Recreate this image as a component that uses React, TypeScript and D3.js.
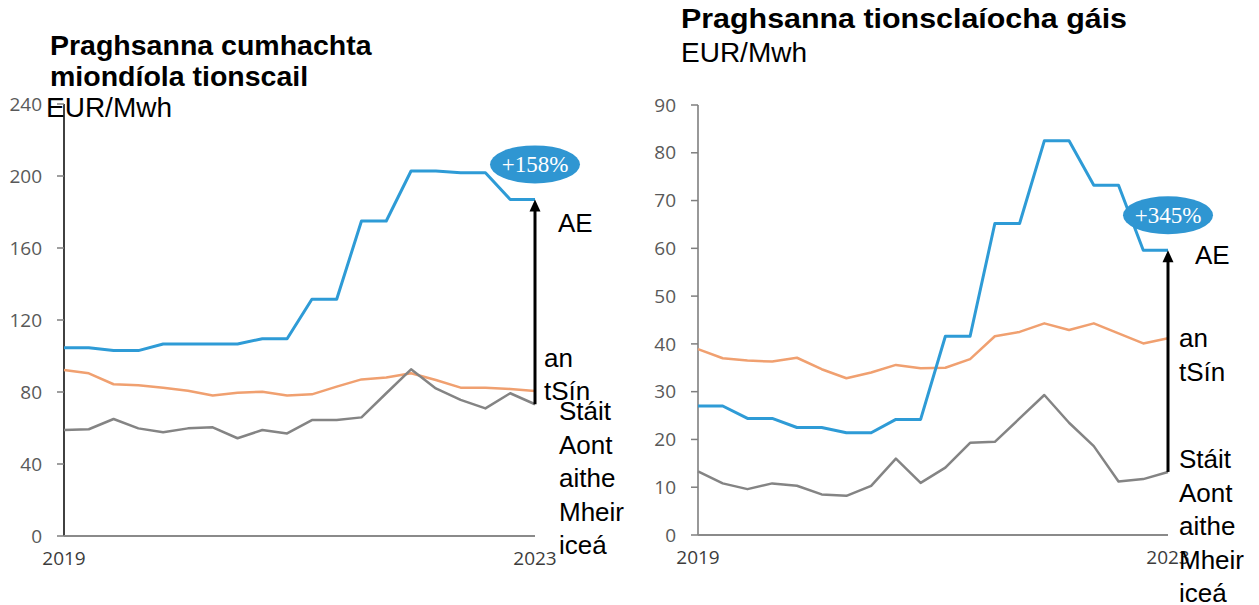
import React from "react";
import * as d3 from "d3";

// ---- data ----
const xTickLabels = ["2019", "2023"];
const powerTicks = [0, 40, 80, 120, 160, 200, 240];
const gasTicks = [0, 10, 20, 30, 40, 50, 60, 70, 80, 90];

const powerEU = [104.6, 104.6, 103, 103, 106.7, 106.7, 106.7, 106.7, 109.6, 109.6, 131.5, 131.5, 175, 175, 202.8, 202.8, 201.8, 201.8, 187, 187];
const powerChina = [92.2, 90.4, 84.3, 83.7, 82.4, 80.7, 78.1, 79.6, 80.2, 78.1, 78.7, 83, 87, 88, 90.4, 86.7, 82.4, 82.4, 81.7, 80.6];
const powerUS = [58.9, 59.3, 65, 59.8, 57.6, 59.8, 60.4, 54.3, 58.9, 57, 64.4, 64.4, 65.9, 79.3, 92.6, 82, 75.6, 70.9, 79.3, 73.2];

const gasEU = [27.0, 27.0, 24.4, 24.4, 22.5, 22.5, 21.4, 21.4, 24.2, 24.2, 41.6, 41.6, 65.2, 65.2, 82.5, 82.5, 73.2, 73.2, 59.6, 59.6];
const gasChina = [38.9, 37.0, 36.5, 36.3, 37.1, 34.7, 32.8, 34.0, 35.6, 34.9, 35.0, 36.8, 41.6, 42.5, 44.3, 42.9, 44.3, 42.2, 40.1, 41.2];
const gasUS = [13.3, 10.8, 9.6, 10.8, 10.3, 8.5, 8.2, 10.3, 16.0, 10.9, 14.1, 19.3, 19.5, 24.4, 29.3, 23.5, 18.6, 11.2, 11.7, 13.2];

const labelEU = ["AE"];
const labelChina = ["an", "tSín"];
const labelUS = ["Stáit", "Aont", "aithe", "Mheir", "iceá"];

const powerTitle = ["Praghsanna cumhachta", "miondíola tionscail"];
const gasTitle = ["Praghsanna tionsclaíocha gáis"];
const unitLabel = "EUR/Mwh";
const powerBadge = "+158%";
const gasBadge = "+345%";

const COL_EU = "#2e9bd6";
const COL_CN = "#f0a070";
const COL_US = "#848484";
const TICK_FONT = "'Open Sans', 'Noto Sans', sans-serif";
const LABEL_FONT = "'Liberation Sans', Arial, sans-serif";

type PanelProps = {
  x0: number; x1: number; yTop: number; yBottom: number; max: number;
  ticks: number[]; eu: number[]; cn: number[]; us: number[];
  yAxisColor: string; badge: string;
  aeDx: number; aeDy: number;
  cnDx: number; cnDy: number;
  usDx: number; usDy: number;
  lineGap: number;
};

function Panel(p: PanelProps) {
  const n = p.eu.length;
  const x = d3.scaleLinear().domain([0, n - 1]).range([p.x0, p.x1]);
  const y = d3.scaleLinear().domain([0, p.max]).range([p.yBottom, p.yTop]);
  const line = d3.line<number>().x((_, i) => x(i)).y((d) => y(d));
  const xe = x(n - 1);
  const yEU = y(p.eu[n - 1]);
  const yUS = y(p.us[n - 1]);
  const yCN = y(p.cn[n - 1]);
  return (
    <g>
      {/* y axis */}
      <line x1={p.x0} x2={p.x0} y1={y(p.max)} y2={y(0)} stroke={p.yAxisColor} strokeWidth={1.6} />
      {p.ticks.map((t) => (
        <g key={t}>
          <line x1={p.x0 - 7} x2={p.x0} y1={y(t)} y2={y(t)} stroke="#7f7f7f" strokeWidth={1.5} />
          <text x={p.x0 - 22} y={y(t)} dy="0.35em" textAnchor="end" fontFamily={TICK_FONT} fontSize={19} fill="#595959">{t}</text>
        </g>
      ))}
      {/* x axis */}
      <line x1={p.x0} x2={xe} y1={y(0)} y2={y(0)} stroke="#8a8a8a" strokeWidth={2} />
      {xTickLabels.map((l, i) => (
        <text key={l} x={i === 0 ? x(0) : x(n - 1)} y={p.yBottom + 29} textAnchor="middle" fontFamily={TICK_FONT} fontSize={19} fill="#3c3c3c">{l}</text>
      ))}
      {/* series */}
      <path d={line(p.cn) || ""} fill="none" stroke={COL_CN} strokeWidth={2.5} strokeLinejoin="round" />
      <path d={line(p.us) || ""} fill="none" stroke={COL_US} strokeWidth={2.5} strokeLinejoin="round" />
      <path d={line(p.eu) || ""} fill="none" stroke={COL_EU} strokeWidth={3} strokeLinejoin="round" />
      {/* arrow */}
      <line x1={xe} x2={xe} y1={yUS} y2={yEU + 10} stroke="#000" strokeWidth={3} />
      <polygon points={`${xe},${yEU} ${xe - 5.5},${yEU + 12} ${xe + 5.5},${yEU + 12}`} fill="#000" />
      {/* badge */}
      <ellipse cx={xe} cy={yEU - 35} rx={45} ry={19} fill="#2f96d2" />
      <text x={xe} y={yEU - 35} dy="0.34em" textAnchor="middle" fontFamily="'Liberation Serif', 'Times New Roman', serif" fontSize={23} fill="#fff">{p.badge}</text>
      {/* labels */}
      {labelEU.map((l, i) => (
        <text key={l} x={xe + p.aeDx} y={yEU + p.aeDy + i * p.lineGap} fontFamily={LABEL_FONT} fontSize={26} fill="#000">{l}</text>
      ))}
      {labelChina.map((l, i) => (
        <text key={l} x={xe + p.cnDx} y={yCN + p.cnDy + i * p.lineGap} fontFamily={LABEL_FONT} fontSize={26} fill="#000">{l}</text>
      ))}
      {labelUS.map((l, i) => (
        <text key={l} x={xe + p.usDx} y={yUS + p.usDy + i * p.lineGap} fontFamily={LABEL_FONT} fontSize={26} fill="#000">{l}</text>
      ))}
    </g>
  );
}

export default function App() {
  return (
    <svg width={1259} height={605} style={{ position: "absolute", left: 0, top: 0, background: "#fff" }}>
      <rect width={1259} height={605} fill="#fff" />
      <Panel x0={64} x1={535} yTop={104} yBottom={536} max={240} ticks={powerTicks}
        eu={powerEU} cn={powerChina} us={powerUS} yAxisColor="#111" badge={powerBadge}
        aeDx={23} aeDy={33} cnDx={9} cnDy={-24} usDx={24} usDy={16} lineGap={33.5} />
      <Panel x0={698} x1={1168} yTop={105} yBottom={535} max={90} ticks={gasTicks}
        eu={gasEU} cn={gasChina} us={gasUS} yAxisColor="#7f7f7f" badge={gasBadge}
        aeDx={27} aeDy={14} cnDx={11} cnDy={9} usDx={11} usDy={-3.5} lineGap={33.5} />
      {/* titles */}
      {powerTitle.map((t, i) => (
        <text key={t} x={50} y={55 + i * 31} fontFamily={LABEL_FONT} fontWeight="bold" fontSize={28.5} fill="#000">{t}</text>
      ))}
      <text x={46} y={117} fontFamily={LABEL_FONT} fontSize={28} fill="#000">{unitLabel}</text>
      {gasTitle.map((t) => (
        <text key={t} x={681} y={28} fontFamily={LABEL_FONT} fontWeight="bold" fontSize={27.5} fill="#000" textLength={446} lengthAdjust="spacingAndGlyphs">{t}</text>
      ))}
      <text x={681} y={62} fontFamily={LABEL_FONT} fontSize={28} fill="#000">{unitLabel}</text>
    </svg>
  );
}
